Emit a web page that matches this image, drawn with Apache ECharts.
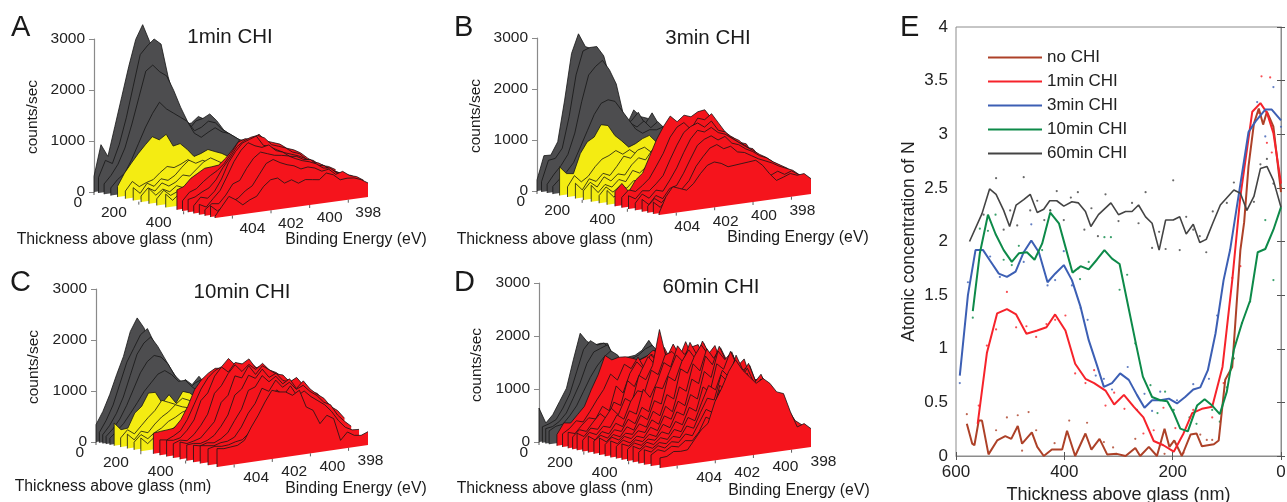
<!DOCTYPE html>
<html><head><meta charset="utf-8">
<script src="https://cdn.jsdelivr.net/npm/echarts@6/dist/echarts.min.js"></script>
<style>html,body{margin:0;padding:0;background:#fff}#c{width:1287px;height:502px}</style>
</head><body><div id="c"></div>
<script>
const energies=[404.9,404.54,404.18,403.82,403.46,403.1,402.74,402.38,402.02,401.66,401.3,400.94,400.58,400.22,399.86,399.5,399.14,398.78,398.42,398.06,397.7,397.34,396.98];
const thicknessTicks=[0,200,400];
const energyTicks=[404,402,400,398];

const thicknessA=[0,20,45,75,105,140,175,210,245,280,320,370,395,420,445,470,495,520,540];
const countsA=[
[307,909,660,1230,1800,2370,2880,3150,2800,2590,2050,1600,1160,1080,1090,1200,1120,1010,820,700,690,600,480],
[300,620,540,900,1400,2000,2600,2750,2870,2750,2100,1600,1150,1000,1150,1180,1250,1100,900,780,650,600,480],
[200,350,550,850,1300,1800,2300,2400,2250,2150,1850,1500,1200,1000,1050,1150,1100,950,850,750,650,550,450],
[150,300,400,650,950,1250,1500,1700,1550,1450,1350,1250,1000,900,980,1050,950,900,800,700,620,520,420],
[210,450,630,800,950,1090,1010,1100,850,880,750,590,630,690,630,575,490,500,470,450,420,400,350],
[150,320,200,260,300,420,520,480,530,600,480,430,380,400,350,330,300,280,300,260,220,200,170],
[250,120,300,220,350,300,380,520,640,560,600,520,450,480,420,380,340,300,280,260,240,200,180],
[120,260,180,320,240,300,420,380,500,620,680,600,520,560,500,430,380,340,300,280,240,210,190],
[300,150,250,180,280,220,350,450,400,480,560,620,560,500,470,520,420,360,320,280,260,220,180],
[130,280,160,220,300,250,230,320,420,520,480,450,500,580,520,460,400,360,320,280,250,220,190],
[260,120,240,170,250,200,280,260,350,420,380,450,520,470,550,480,430,380,340,300,260,230,200],
[390,440,580,660,740,750,765,880,1030,1200,1185,1100,1180,980,915,900,810,820,640,560,480,490,340],
[200,350,400,520,620,700,820,1000,1200,1250,1220,1300,1150,1100,1050,950,900,820,700,600,520,480,400],
[250,280,360,420,560,780,950,1150,1250,1300,1320,1250,1100,1050,1000,900,850,720,680,560,500,420,350],
[150,300,260,380,600,900,1100,1250,1300,1350,1150,1100,1020,950,900,850,780,700,650,560,460,400,340],
[200,130,280,420,680,950,1150,1280,1200,1150,1180,1050,1000,900,880,800,780,650,620,500,420,380,330],
[120,220,200,350,550,600,820,1000,1100,1050,1000,980,950,880,820,780,720,620,600,480,440,400,320],
[220,100,180,240,300,420,500,700,900,960,880,820,780,700,720,680,600,620,500,540,440,400,310],
[33,210,386,300,183,262,314,490,600,615,497,543,458,510,490,470,582,530,412,425,412,360,275]];

const thicknessB=[0,20,45,70,100,135,170,205,240,275,310,345,375,405,435,465,490,515,540];
const countsB=[
[216,674,667,909,1707,2603,2970,2700,2635,2400,1800,1220,1105,1053,1328,1177,1125,975,890,837,720,650,520],
[200,600,620,800,1400,2200,2650,2700,2700,2500,2000,1300,1100,1150,1300,1050,1250,1000,900,800,700,620,500],
[170,350,500,700,1100,1700,2200,2350,2450,2250,1950,1350,1150,1050,1150,1000,1100,950,850,780,680,600,480],
[150,280,400,560,850,1150,1450,1650,1700,1650,1450,1250,1050,950,1000,980,1020,900,800,720,640,560,460],
[560,410,390,765,975,1050,1275,1240,1025,900,760,810,890,935,785,700,640,600,540,480,430,380,320],
[200,400,260,350,520,650,700,780,690,760,650,720,600,640,580,540,480,440,400,340,300,260,220],
[300,150,350,280,420,360,520,700,640,780,820,700,640,720,620,550,500,430,400,360,320,280,240],
[180,330,220,400,300,420,380,560,680,620,800,750,620,680,640,520,480,430,380,340,300,260,220],
[320,160,300,230,360,300,500,430,540,720,620,760,640,700,560,500,440,400,360,330,300,260,220],
[150,300,180,280,220,350,300,420,500,460,640,560,700,600,540,480,430,380,340,310,270,240,200],
[280,130,260,190,300,240,360,300,460,420,560,640,520,620,500,450,400,360,330,290,260,230,200],
[290,430,250,460,575,880,1190,1430,1620,1490,1600,1550,1630,1650,1460,1310,1090,1040,920,870,650,500,350],
[200,330,280,380,500,720,950,1250,1430,1500,1350,1550,1500,1600,1400,1200,1080,1000,850,800,620,520,380],
[260,180,320,300,420,560,850,1120,1350,1450,1500,1400,1500,1300,1250,1100,1000,920,800,700,600,500,370],
[140,300,200,340,300,500,720,1000,1250,1400,1350,1420,1300,1250,1150,1050,950,860,760,680,570,480,360],
[240,120,280,200,380,420,640,900,1150,1250,1300,1200,1250,1100,1050,950,880,780,720,620,540,460,340],
[130,260,160,300,250,380,520,780,950,1100,1150,1050,1080,950,920,840,760,700,640,560,500,440,330],
[230,110,250,170,220,280,300,420,560,620,520,480,460,500,480,420,350,440,500,420,470,380,300],
[33,340,517,464,412,523,700,844,890,844,759,772,785,798,811,693,510,360,405,458,405,419,300]];

const thicknessC=[0,15,30,45,62,81,110,140,170,200,256,285,315,345,375,405,435,465,500,540];
const countsC=[
[340,580,890,1260,1600,2070,2315,2100,1690,1310,1125,910,740,970,850,995,810,630,520,450,400,340,280],
[200,420,700,1100,1500,1750,2000,2100,1800,1550,1300,1050,850,800,900,950,800,650,520,450,400,340,280],
[170,330,550,850,1250,1650,1850,1950,1750,1500,1250,1020,880,780,820,880,780,620,520,440,390,330,270],
[150,280,450,700,1000,1300,1500,1600,1550,1400,1150,1000,850,750,760,800,720,600,500,430,380,320,260],
[130,250,380,560,750,950,1100,1250,1300,1200,1050,1050,900,780,700,740,680,580,480,420,370,310,250],
[445,295,307,582,693,935,930,700,845,660,870,820,700,600,520,450,400,350,300,270,240,210,190],
[180,320,220,360,500,620,800,740,680,780,720,620,560,500,440,400,360,320,280,250,220,200,180],
[280,150,300,250,400,520,600,720,660,620,700,580,500,460,410,370,330,300,270,240,210,190,170],
[150,280,180,280,350,460,520,600,640,550,600,520,480,430,390,350,320,290,260,230,210,190,170],
[260,130,240,180,300,380,440,560,500,590,520,470,430,400,370,330,300,270,250,220,200,180,160],
[405,420,430,445,590,830,1140,1315,1425,1500,1485,1500,1540,1500,1450,1350,1250,1100,1000,850,720,600,480],
[300,280,340,420,620,900,1180,1380,1500,1560,1700,1550,1500,1580,1450,1350,1250,1120,980,850,720,620,500],
[320,300,330,460,640,1000,1130,1440,1600,1480,1650,1600,1680,1480,1520,1400,1280,1120,1000,860,730,630,500],
[280,330,300,400,560,760,1150,1280,1500,1650,1500,1620,1500,1600,1450,1380,1260,1180,1060,880,750,640,500],
[340,290,320,360,500,640,1000,1120,1480,1420,1640,1450,1600,1500,1400,1360,1200,1260,1050,900,760,650,500],
[310,320,300,340,420,580,780,1150,1250,1500,1420,1580,1400,1460,1300,1250,1320,1150,1000,950,780,660,480],
[330,300,340,320,380,480,700,900,1250,1300,1500,1360,1450,1280,1360,1150,1280,1100,980,880,700,600,430],
[350,330,310,350,360,420,600,850,1020,1300,1220,1420,1260,1340,1180,1240,1100,1000,850,780,560,420,300],
[320,350,330,340,380,400,520,700,950,1120,1280,1150,1320,1100,1180,1050,950,850,700,500,350,280,270],
[360,340,353,366,445,687,896,1138,1347,1295,1275,1190,1269,922,837,556,700,615,170,314,229,209,262]];

const thicknessD=[0,15,30,45,80,105,130,150,170,195,220,245,270,295,320,345,370,395,420,445,470,500,540];
const countsD=[
[640,340,478,710,943,1460,1944,1770,1685,1700,1680,1346,1360,1370,1384,1460,1630,1420,1300,1200,1100,1000,850],
[300,340,400,600,850,1250,1650,1800,1700,1720,1550,1350,1300,1350,1400,1500,1550,1400,1300,1200,1100,950,800],
[280,300,380,520,780,1050,1400,1600,1650,1700,1450,1300,1250,1300,1350,1400,1480,1350,1280,1150,1050,900,760],
[250,320,340,480,650,900,1150,1350,1500,1600,1500,1250,1200,1280,1300,1350,1400,1300,1250,1100,1000,860,720],
[214,415,396,535,673,970,1233,1580,1478,1510,1500,1453,1400,1447,1550,1480,1350,1250,1050,880,700,520,380],
[250,330,460,420,600,800,980,1250,1120,1400,1300,1500,1250,1520,1350,1500,1300,1280,1000,900,640,540,390],
[300,260,400,520,480,700,600,1050,900,1250,1450,1300,1550,1400,1650,1380,1450,1180,1150,880,730,520,400],
[230,350,300,460,600,480,780,700,1150,1020,1300,1550,1380,1700,1450,1550,1320,1350,1050,960,700,570,400],
[320,240,380,340,520,700,560,850,760,1250,1150,1400,2060,1500,1750,1500,1620,1300,1200,900,780,540,410],
[210,340,280,420,380,600,500,820,1000,950,1350,1250,1600,1650,1500,1800,1480,1500,1120,1000,720,590,410],
[310,220,360,300,480,400,680,600,1050,880,1150,1500,1400,1780,1600,1720,1750,1420,1300,950,800,560,420],
[240,330,260,400,350,560,460,750,650,1100,1050,1350,1650,1500,1850,1600,1800,1450,1250,1100,750,610,420],
[320,230,350,290,460,380,640,540,880,800,1300,1200,1550,1750,1560,1880,1620,1600,1200,1050,830,570,420],
[220,340,270,380,340,520,440,720,620,1000,900,1450,1350,1650,1850,1650,1800,1420,1400,1000,840,630,430],
[310,240,360,300,430,380,600,500,820,700,1150,1050,1550,1400,1800,1600,1780,1500,1250,1160,780,640,430],
[230,330,260,370,320,500,420,680,600,920,820,1300,1200,1700,1520,1850,1550,1650,1250,1100,860,590,430],
[300,240,340,290,410,350,560,480,760,680,1050,950,1450,1320,1800,1620,1750,1400,1450,1050,870,650,430],
[220,320,260,360,320,460,400,620,540,850,760,1200,1080,1600,1480,1800,1500,1620,1200,1200,800,650,430],
[300,230,340,280,390,340,510,450,700,620,950,1250,1150,1500,1350,1750,1450,1520,1150,1150,880,600,420],
[210,310,250,340,300,420,380,580,520,800,1050,1000,1450,1300,1700,1400,1600,1250,1300,1000,860,640,410],
[280,220,320,260,360,330,470,420,650,880,800,1300,1150,1650,1350,1550,1250,1400,1100,1050,760,600,400],
[210,290,240,320,290,390,370,520,780,700,1250,1150,1600,1300,1500,1150,1350,1050,1000,850,700,480,380],
[190,200,275,260,270,440,610,717,1107,1346,1640,1843,1635,1490,1346,1420,1310,1130,1080,717,415,460,346]];

const lineNoChi=[[580,.30],[570,.115],[566,.10],[558,.33],[552,.33],[540,.015],[524,.145],[509,.185],[498,.16],[486,.28],[478,.115],[460,.22],[450,.085],[438,0],[423,.06],[404,.06],[395,.235],[380,0],[361,.21],[350,.06],[335,.16],[321,.015],[303,.02],[287,0],[269,.075],[260,0],[244,.085],[229,0],[215,.255],[206,.085],[197,.145],[183,0],[167,.2],[156,.21],[146,.09],[124,.11],[115,.145],[103,.71],[90,.83],[75,1.92],[68,2.18],[60,2.7],[50,3.1],[41,3.24],[33,3.09],[26,3.21],[14,3.07],[0,2.46]];
const line1min=[[560,.30],[543,.96],[524,1.33],[506,1.37],[489,1.32],[470,1.14],[450,1.17],[433,1.20],[417,1.32],[398,1.17],[380,.86],[361,.72],[345,.68],[324,.61],[308,.48],[290,.57],[272,.46],[254,.36],[235,.14],[217,.10],[198,.04],[180,.21],[164,.40],[146,.44],[127,.46],[108,.83],[90,1.64],[75,2.42],[53,3.21],[38,3.29],[26,3.20],[14,3.01],[0,2.54]];
const line3min=[[593,.75],[578,1.5],[564,1.92],[550,1.92],[537,1.82],[521,1.70],[506,1.67],[490,1.72],[475,1.90],[461,2.01],[447,1.9],[431,1.62],[417,1.70],[401,1.78],[386,1.64],[370,1.39],[355,1.08],[340,.85],[327,.645],[312,.68],[297,.77],[281,.71],[266,.57],[252,.45],[238,.52],[223,.52],[207,.535],[192,.49],[177,.55],[162,.62],[149,.64],[135,.80],[121,1.14],[106,1.64],[94,1.92],[60,3.02],[47,3.12],[29,3.23],[17,3.23],[0,3.13]];
const line10min=[[569,1.35],[556,1.89],[541,2.25],[527,2.07],[512,1.92],[497,1.81],[484,1.89],[469,1.90],[455,1.83],[441,1.98],[426,2.27],[410,2.17],[398,1.95],[385,1.71],[370,1.77],[355,1.74],[340,1.83],[326,1.92],[312,1.84],[298,1.79],[283,1.42],[268,1.05],[255,.74],[238,.55],[223,.52],[210,.51],[198,.40],[186,.255],[172,.23],[155,.47],[141,.53],[127,.47],[113,.39],[100,.60],[87,.99],[72,1.24],[57,1.45],[43,1.90],[29,1.93],[14,2.11],[0,2.32]];
const line60min=[[575,2.0],[552,2.26],[538,2.49],[526,2.44],[512,2.29],[501,2.14],[489,2.34],[475,2.39],[463,2.44],[450,2.27],[438,2.30],[427,2.38],[414,2.38],[401,2.33],[386,2.37],[374,2.36],[361,2.28],[351,2.14],[337,2.25],[314,2.36],[300,2.25],[287,2.28],[275,2.28],[263,2.34],[250,2.23],[238,2.17],[225,1.92],[213,2.2],[199,2.2],[187,2.23],[175,2.07],[162,2.16],[150,1.99],[138,2.02],[126,2.17],[112,2.34],[87,2.48],[75,2.45],[63,2.29],[50,2.42],[38,2.68],[26,2.70],[14,2.57],[0,2.32]];

const dotsNoChi=[[580,.39],[526,.24],[506,.36],[486,.38],[466,.41],[452,.24],[478,.05],[418,.12],[391,.33],[358,.31],[327,.13],[310,.08],[269,.16],[215,.02],[149,.20],[137,.15],[127,.15]];
const dots1min=[[558,.47],[543,1.03],[526,1.18],[506,1.53],[489,1.20],[470,1.21],[452,1.11],[433,1.23],[417,1.27],[398,1.31],[380,.77],[361,.68],[345,.80],[324,.47],[308,.59],[289,.44],[254,.21],[235,.24],[217,.45],[195,.26],[180,.03],[162,.43],[127,.36],[106,.68],[90,1.66],[75,1.77],[41,3.2],[36,3.54],[26,2.92],[20,3.53],[17,2.83],[0,2.5]];
const dots3min=[[593,.68],[578,1.62],[537,1.86],[519,1.67],[475,1.81],[461,2.16],[431,1.59],[417,1.64],[401,1.91],[386,1.59],[370,1.38],[357,1.27],[342,.75],[327,.72],[312,.62],[283,.83],[266,.43],[252,.58],[238,.42],[223,.60],[192,.52],[162,.67],[133,.72],[118,1.31],[44,3.30],[29,2.98],[14,3.44],[0,3.07]];
const dots10min=[[569,1.29],[556,2.12],[541,2.10],[527,2.25],[512,1.83],[497,1.78],[484,1.96],[441,1.92],[426,2.29],[374,1.75],[371,1.65],[355,1.81],[326,2.04],[314,2.04],[298,1.55],[284,1.69],[269,1.05],[241,.66],[228,.40],[214,.60],[198,.43],[169,.36],[156,.30],[127,.43],[113,.32],[100,.64],[87,.91],[72,1.24],[57,1.44],[29,2.2],[14,1.64]];
const dots60min=[[549,2.25],[526,2.59],[512,2.11],[500,2.29],[487,2.15],[475,2.60],[463,2.29],[450,2.38],[437,2.20],[426,2.29],[414,2.47],[401,2.20],[388,2.41],[375,2.46],[363,2.11],[350,2.31],[338,2.05],[324,2.44],[300,2.19],[275,2.36],[263,2.17],[250,2.46],[238,1.94],[225,2.09],[213,1.93],[199,2.57],[187,1.92],[175,2.23],[162,2.11],[150,2.05],[138,1.90],[126,2.28],[100,2.36],[87,2.55],[63,2.30],[50,2.37],[38,2.72],[26,2.77],[14,2.54]];

const legendNames=['no CHI','1min CHI','3min CHI','10min CHI','60min CHI'];
const panelTitles=['1min CHI','3min CHI','10min CHI','60min CHI'];

const E0=404.9,ESPAN=7.92,TMAX=540;
const COL={gray:'#4d4d4f',yellow:'#f4ec12',red:'#f5141c',text:'#222'};
const FONT='"Liberation Sans",Arial,sans-serif';

// Oblique projection layout of each waterfall panel
const panels=[
 {o:[94,192],th:[121,26],en:[153,-21],k:.051,t:thicknessA,c:countsA,yFrom:100,rFrom:360,eOff:[20,12],tOff:[-12,10]},
 {o:[537,191],th:[122,24],en:[152,-21],k:.051,t:thicknessB,c:countsB,yFrom:95,rFrom:340,eOff:[11,13],tOff:[-12,10]},
 {o:[96,442],th:[121,25],en:[151,-22],k:.051,t:thicknessC,c:countsC,yFrom:75,rFrom:250,eOff:[22,12],tOff:[-12,10]},
 {o:[539,442],th:[121,26],en:[151,-21],k:.053,t:thicknessD,c:countsD,yFrom:9999,rFrom:70,eOff:[32,11],tOff:[-11,10]}
];
const PW=285;
function project(p,t,e,h){
 const a=t/TMAX,f=(E0-e)/ESPAN;
 return [a*p.th[0]+f*p.en[0], h-(a*p.th[1]+f*p.en[1])/p.k];
}
const grids=[],xAxes=[],yAxes=[],series=[];
panels.forEach((p,n)=>{
 grids.push({left:p.o[0],top:p.o[1]-3000*p.k,width:PW,height:3000*p.k,outerBoundsMode:'none'});
 xAxes.push({gridIndex:n,type:'value',min:0,max:PW,show:false});
 yAxes.push({gridIndex:n,type:'value',min:0,max:3000,interval:1000,splitLine:{show:false},
  axisLine:{show:true,lineStyle:{color:'#8a8a8a',width:1.2}},axisTick:{show:true,length:5,lineStyle:{color:'#8a8a8a'}},
  axisLabel:{fontFamily:FONT,fontSize:15.5,color:COL.text,margin:9,formatter:v=>String(v)}});
 series.push({type:'custom',coordinateSystem:'cartesian2d',xAxisIndex:n,yAxisIndex:n,silent:true,clip:false,z:3,
  data:p.t.map((t,i)=>[i,0]),
  renderItem(params,api){
   const i=api.value(0),t=p.t[i],row=p.c[i];
   const top=row.map((h,j)=>api.coord(project(p,t,energies[j],h)));
   const b0=api.coord(project(p,t,energies[0],0));
   const b1=api.coord(project(p,t,energies[energies.length-1],0));
   const fill=t>=p.rFrom?COL.red:(t>=p.yFrom?COL.yellow:COL.gray);
   return {type:'group',children:[
    {type:'polygon',shape:{points:[b0].concat(top,[b1])},style:{fill:fill,stroke:null}},
    {type:'polyline',shape:{points:[b0].concat(top)},style:{fill:null,stroke:'#151515',lineWidth:.8}}
   ]};
  }});
 const ax=[];
 thicknessTicks.forEach(v=>ax.push({k:'t',v}));
 energyTicks.forEach(v=>ax.push({k:'e',v}));
 series.push({type:'custom',coordinateSystem:'cartesian2d',xAxisIndex:n,yAxisIndex:n,silent:true,clip:false,z:4,
  data:ax.map((a,i)=>[i,0]),
  renderItem(params,api){
   const a=ax[api.value(0)];
   const c=a.k==='t'?api.coord(project(p,a.v,E0,0)):api.coord(project(p,TMAX,a.v,0));
   const off=a.k==='t'?p.tOff:p.eOff;
   return {type:'group',children:[
    {type:'line',shape:{x1:c[0],y1:c[1],x2:c[0],y2:c[1]+3},style:{stroke:'#333',lineWidth:.8}},
    {type:'text',style:{text:String(a.v),x:c[0]+off[0],y:c[1]+off[1]+1,align:a.k==='t'?'right':'center',verticalAlign:'middle',fontFamily:FONT,fontSize:15.5,fill:COL.text}}
   ]};
  }});
});
const G=4;
grids.push({left:956,top:27,width:325,height:429,show:true,borderColor:'#8c8c8c',borderWidth:1,backgroundColor:'transparent',outerBoundsMode:'none'});
xAxes.push({gridIndex:G,type:'value',inverse:true,min:0,max:600,interval:200,position:'bottom',splitLine:{show:false},
 name:'Thickness above glass (nm)',nameLocation:'middle',nameGap:27,nameTextStyle:{fontFamily:FONT,fontSize:18,color:COL.text},
 axisLine:{show:true,lineStyle:{color:'#8c8c8c'}},axisTick:{inside:true,length:4,lineStyle:{color:'#555'}},
 axisLabel:{fontFamily:FONT,fontSize:17,color:COL.text,margin:8,hideOverlap:false,showMinLabel:true,showMaxLabel:true}});
xAxes.push({gridIndex:G,type:'value',inverse:true,min:0,max:600,interval:200,position:'top',splitLine:{show:false},
 axisLine:{show:false},axisTick:{inside:true,length:4,lineStyle:{color:'#555'}},axisLabel:{show:false}});
yAxes.push({gridIndex:G,type:'value',min:0,max:4,interval:.5,splitLine:{show:false},
 name:'Atomic concentration of N',nameLocation:'middle',nameGap:38,nameTextStyle:{fontFamily:FONT,fontSize:17.5,color:COL.text},
 axisLine:{show:true,lineStyle:{color:'#8c8c8c'}},axisTick:{inside:true,length:4,lineStyle:{color:'#555'}},
 axisLabel:{fontFamily:FONT,fontSize:17,color:COL.text,margin:8}});
yAxes.push({gridIndex:G,type:'value',min:0,max:4,interval:.5,position:'right',splitLine:{show:false},
 axisLine:{show:false},axisTick:{inside:true,length:4,lineStyle:{color:'#555'}},axisLabel:{show:false}});

const lineDefs=[
 [legendNames[0],lineNoChi,dotsNoChi,'#ad4128',2],
 [legendNames[1],line1min,dots1min,'#f6232b',2],
 [legendNames[2],line3min,dots3min,'#3c5fb4',2],
 [legendNames[3],line10min,dots10min,'#0d8a49',2],
 [legendNames[4],line60min,dots60min,'#444444',1.6]];
const xi=panels.length,yi=panels.length;
lineDefs.forEach(d=>{
 series.push({type:'scatter',xAxisIndex:xi,yAxisIndex:yi,data:d[2],symbolSize:2.2,itemStyle:{color:d[3]},silent:true,z:2});
});
lineDefs.forEach(d=>{
 series.push({type:'line',name:d[0],xAxisIndex:xi,yAxisIndex:yi,data:d[1],showSymbol:false,symbol:'none',lineStyle:{color:d[3],width:d[4]},itemStyle:{color:d[3]},silent:true,z:3,clip:true});
});

function txt(s,x,y,size,rot,align){
 return {type:'text',x,y,rotation:rot||0,silent:true,style:{text:s,align:align||'center',verticalAlign:'middle',fontFamily:FONT,fontSize:size,fill:'#1a1a1a'}};
}
const HALF=Math.PI/2;
const graphicEls=[
 txt('A',11,28,29,0,'left'),txt('B',454,28,29,0,'left'),txt('C',10,283,29,0,'left'),txt('D',454,283,29,0,'left'),txt('E',900,28,29,0,'left'),
 txt(panelTitles[0],230,37,20.5),txt(panelTitles[1],708,38,20.5),txt(panelTitles[2],242,292,20.5),txt(panelTitles[3],711,287,20.5),
 txt('counts/sec',33,117,15.5,HALF),txt('counts/sec',476,116,15.5,HALF),txt('counts/sec',34,367,15.5,HALF),txt('counts/sec',477,365,15.5,HALF),
 txt('Thickness above glass (nm)',115,240,15.8),txt('Thickness above glass (nm)',555,240,15.8),txt('Thickness above glass (nm)',113,487,15.8),txt('Thickness above glass (nm)',555,489,15.8),
 txt('Binding Energy (eV)',356,240,15.8),txt('Binding Energy (eV)',798,238,15.8),txt('Binding Energy (eV)',356,489,15.8),txt('Binding Energy (eV)',799,491,15.8)
];
const chart=echarts.init(document.getElementById('c'),null,{renderer:'canvas'});
chart.setOption({
 animation:false,backgroundColor:'#fff',tooltip:{show:false},
 grid:grids,xAxis:xAxes,yAxis:yAxes,series,
 legend:{data:legendNames.map(n=>({name:n,icon:'rect'})),orient:'vertical',left:983,top:44,itemWidth:54,itemHeight:2,itemGap:7,selectedMode:false,
  textStyle:{fontFamily:FONT,fontSize:17,color:COL.text}},
 graphic:{elements:graphicEls}
});
</script></body></html>
